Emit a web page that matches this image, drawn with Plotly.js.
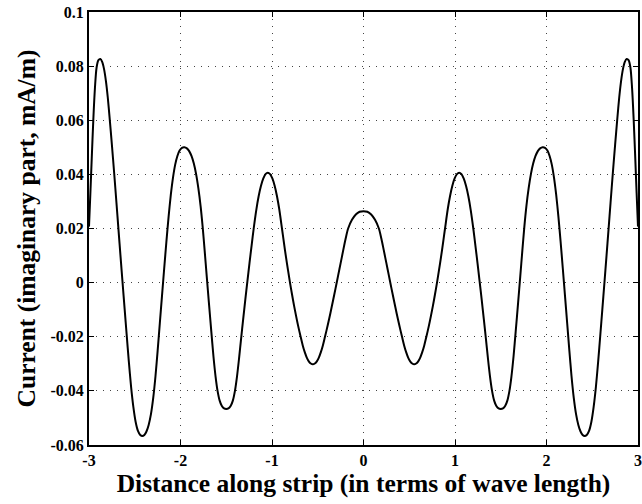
<!DOCTYPE html>
<html>
<head>
<meta charset="utf-8">
<script src="https://cdn.plot.ly/plotly-3.0.1.min.js"></script>
<style>html,body{margin:0;padding:0;background:#fff;}#chart{width:642px;height:504px;}</style>
</head>
<body>
<div id="chart"></div>
<script>
// Distance along strip (wave lengths)
const distance = [
  -3.000, -2.985, -2.970, -2.953, -2.935, -2.917, -2.897, -2.876,
  -2.856, -2.836, -2.815, -2.795, -2.775, -2.750, -2.725, -2.700, -2.678, -2.655,
  -2.632, -2.610, -2.589, -2.565, -2.540, -2.515, -2.490, -2.465, -2.440, -2.417,
  -2.395, -2.372, -2.348, -2.323, -2.298, -2.273, -2.250, -2.226, -2.202, -2.178,
  -2.154, -2.130, -2.106, -2.082, -2.058, -2.034, -2.010, -1.984, -1.958,
  -1.930, -1.905, -1.880, -1.855, -1.830, -1.805, -1.780, -1.758, -1.736, -1.713,
  -1.690, -1.663, -1.640, -1.617, -1.595, -1.572, -1.548, -1.524, -1.500,
  -1.476, -1.452, -1.428, -1.405, -1.383, -1.360, -1.337, -1.315, -1.292, -1.269,
  -1.246, -1.223, -1.200, -1.171, -1.146, -1.121, -1.096, -1.071, -1.046,
  -1.021, -0.996, -0.971, -0.946, -0.921, -0.891, -0.869, -0.847, -0.825, -0.803,
  -0.781, -0.759, -0.737, -0.715, -0.687, -0.664, -0.642, -0.620, -0.598, -0.576, -0.554,
  -0.532, -0.510, -0.488, -0.466, -0.444, -0.421, -0.390, -0.362, -0.334, -0.306,
  -0.278, -0.250, -0.222, -0.195, -0.168, -0.126, -0.084, -0.042, 0.000,
  0.042, 0.084, 0.126, 0.168, 0.195, 0.222, 0.250, 0.278,
  0.306, 0.334, 0.362, 0.390, 0.421, 0.444, 0.466, 0.488, 0.510, 0.532,
  0.554, 0.576, 0.598, 0.620, 0.642, 0.664, 0.687, 0.715, 0.737, 0.759, 0.781,
  0.803, 0.825, 0.847, 0.869, 0.891, 0.921, 0.946, 0.971, 0.996, 1.021,
  1.046, 1.071, 1.096, 1.121, 1.146, 1.171, 1.200, 1.223, 1.246,
  1.269, 1.292, 1.315, 1.337, 1.360, 1.383, 1.405, 1.428, 1.452, 1.476,
  1.500, 1.524, 1.548, 1.572, 1.595, 1.617, 1.640, 1.663, 1.690,
  1.713, 1.736, 1.758, 1.780, 1.805, 1.830, 1.855, 1.880, 1.905, 1.930,
  1.958, 1.984, 2.010, 2.034, 2.058, 2.082, 2.106, 2.130, 2.154,
  2.178, 2.202, 2.226, 2.250, 2.273, 2.298, 2.323, 2.348, 2.372, 2.395,
  2.417, 2.440, 2.465, 2.490, 2.515, 2.540, 2.565, 2.589, 2.610, 2.632,
  2.655, 2.678, 2.700, 2.725, 2.750, 2.775, 2.795, 2.815, 2.836, 2.856,
  2.876, 2.897, 2.917, 2.935, 2.953, 2.970, 2.985, 3.000
];
// Current, imaginary part (mA/m)
const currentImag = [
  0.0207, 0.0330, 0.0460, 0.0600, 0.0720, 0.0795, 0.0822, 0.0826,
  0.0816, 0.0790, 0.0745, 0.0685, 0.0610, 0.0510, 0.0405, 0.0295, 0.0197, 0.0095,
  -0.0005, -0.0100, -0.0190, -0.0290, -0.0385, -0.0460, -0.0515, -0.0548, -0.0563, -0.0567,
  -0.0563, -0.0550, -0.0526, -0.0486, -0.0426, -0.0344, -0.0252, -0.0150, -0.0048, 0.0053,
  0.0152, 0.0244, 0.0324, 0.0388, 0.0436, 0.0468, 0.0488, 0.0498, 0.0500,
  0.0496, 0.0486, 0.0468, 0.0441, 0.0402, 0.0349, 0.0282, 0.0207, 0.0118, 0.0022,
  -0.0073, -0.0182, -0.0272, -0.0346, -0.0400, -0.0436, -0.0456, -0.0465, -0.0467,
  -0.0465, -0.0456, -0.0436, -0.0400, -0.0348, -0.0280, -0.0205, -0.0135, -0.0064, 0.0005,
  0.0072, 0.0137, 0.0200, 0.0270, 0.0319, 0.0357, 0.0384, 0.0401, 0.0406,
  0.0401, 0.0385, 0.0358, 0.0320, 0.0272, 0.0200, 0.0146, 0.0094, 0.0046, -0.0001,
  -0.0044, -0.0085, -0.0123, -0.0159, -0.0200, -0.0232, -0.0257, -0.0277, -0.0291, -0.0299, -0.0302,
  -0.0299, -0.0291, -0.0277, -0.0257, -0.0232, -0.0200, -0.0156, -0.0113, -0.0068, -0.0022,
  0.0025, 0.0072, 0.0119, 0.0163, 0.0200, 0.0232, 0.0252, 0.0262, 0.0264,
  0.0262, 0.0252, 0.0232, 0.0200, 0.0163, 0.0119, 0.0072, 0.0025,
  -0.0022, -0.0068, -0.0113, -0.0156, -0.0200, -0.0232, -0.0257, -0.0277, -0.0291, -0.0299,
  -0.0302, -0.0299, -0.0291, -0.0277, -0.0257, -0.0232, -0.0200, -0.0159, -0.0123, -0.0085, -0.0044,
  -0.0001, 0.0046, 0.0094, 0.0146, 0.0200, 0.0272, 0.0320, 0.0358, 0.0385, 0.0401,
  0.0406, 0.0401, 0.0384, 0.0357, 0.0319, 0.0270, 0.0200, 0.0137, 0.0072,
  0.0005, -0.0064, -0.0135, -0.0205, -0.0280, -0.0348, -0.0400, -0.0436, -0.0456, -0.0465,
  -0.0467, -0.0465, -0.0456, -0.0436, -0.0400, -0.0346, -0.0272, -0.0182, -0.0073,
  0.0022, 0.0118, 0.0207, 0.0282, 0.0349, 0.0402, 0.0441, 0.0468, 0.0486, 0.0496,
  0.0500, 0.0498, 0.0488, 0.0468, 0.0436, 0.0388, 0.0324, 0.0244, 0.0152,
  0.0053, -0.0048, -0.0150, -0.0252, -0.0344, -0.0426, -0.0486, -0.0526, -0.0550, -0.0563,
  -0.0567, -0.0563, -0.0548, -0.0515, -0.0460, -0.0385, -0.0290, -0.0190, -0.0100, -0.0005,
  0.0095, 0.0197, 0.0295, 0.0405, 0.0510, 0.0610, 0.0685, 0.0745, 0.0790, 0.0816,
  0.0826, 0.0822, 0.0795, 0.0720, 0.0600, 0.0460, 0.0330, 0.0207
];
const xTickVals = [-3, -2, -1, 0, 1, 2, 3];
const xTickText = ["-3", "-2", "-1", "0", "1", "2", "3"];
const yTickVals = [-0.06, -0.04, -0.02, 0, 0.02, 0.04, 0.06, 0.08, 0.1];
const yTickText = ["-0.06", "-0.04", "-0.02", "0", "0.02", "0.04", "0.06", "0.08", "0.1"];
const xTitle = 'Distance along strip (in terms of wave length)';
const yTitle = 'Current (imaginary part, mA/m)';

const fontFam = '"Liberation Serif", "Times New Roman", serif';
const trace = {
  x: distance, y: currentImag, type: 'scatter', mode: 'lines',
  line: {color: '#000', width: 2, shape: 'spline', smoothing: 0.8},
  hoverinfo: 'skip'
};
const axisCommon = {
  showline: true, linecolor: '#000', linewidth: 2, mirror: 'ticks',
  ticks: 'inside', ticklen: 5, tickcolor: '#000', tickwidth: 1,
  showgrid: true, gridcolor: '#444', griddash: '1px,6px', gridwidth: 1,
  zeroline: false, tickmode: 'array',
  tickfont: {family: fontFam, size: 16, color: '#000', weight: 'bold'}
};
const layout = {
  width: 642, height: 504,
  margin: {l: 89, r: 4, t: 12, b: 59},
  paper_bgcolor: '#fff', plot_bgcolor: '#fff',
  showlegend: false,
  font: {family: fontFam, color: '#000'},
  xaxis: Object.assign({}, axisCommon, {
    range: [-3, 3], tickvals: xTickVals, ticktext: xTickText,
    title: {text: '<b>' + xTitle + '</b>', font: {family: fontFam, size: 25.5, color: '#000'}, standoff: 4}
  }),
  yaxis: Object.assign({}, axisCommon, {
    range: [-0.06, 0.1], tickvals: yTickVals, ticktext: yTickText,
    title: {text: ''}
  }),
  annotations: [{
    text: '<b>' + yTitle + '</b>', xref: 'paper', yref: 'paper',
    x: -0.113, y: 0.5, xanchor: 'center', yanchor: 'middle',
    textangle: -90, showarrow: false,
    font: {family: fontFam, size: 25.5, color: '#000'}
  }]
};
Plotly.newPlot('chart', [trace], layout, {staticPlot: true, displayModeBar: false});
</script>
</body>
</html>
